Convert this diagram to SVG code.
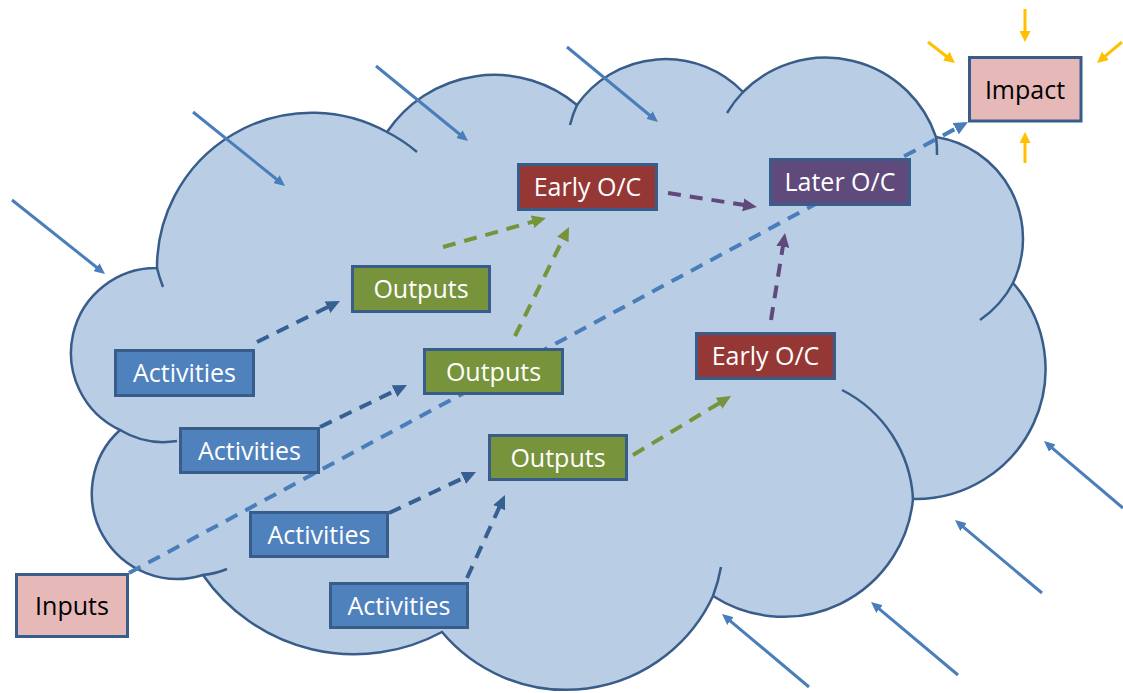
<svg xmlns="http://www.w3.org/2000/svg" width="1123" height="693" viewBox="0 0 1123 693">
<defs>
<style>
.box{stroke:#385d8a;stroke-width:3}
.act{fill:#4f81bd}
.out{fill:#77933c}
.eoc{fill:#953735}
.loc{fill:#604a7b}
.pink{fill:#e6b9b8}
.lbl{font-family:"Open Sans","Noto Sans","Liberation Sans",sans-serif;font-size:25px;text-anchor:middle;fill:#ffffff}
.dark{fill:#000000}
.dash{fill:none;stroke-width:4;stroke-dasharray:13 9}
.ext{fill:none;stroke:#4a7ebb;stroke-width:3}
.sun{fill:none;stroke:#ffc000;stroke-width:3}
</style>
<marker id="mDB" markerUnits="userSpaceOnUse" markerWidth="14" markerHeight="13" refX="10" refY="6.5" orient="auto"><path d="M0,0 L14,6.5 L0,13 z" fill="#366092"/></marker>
<marker id="mG" markerUnits="userSpaceOnUse" markerWidth="14" markerHeight="13" refX="10" refY="6.5" orient="auto"><path d="M0,0 L14,6.5 L0,13 z" fill="#77933c"/></marker>
<marker id="mP" markerUnits="userSpaceOnUse" markerWidth="14" markerHeight="13" refX="10" refY="6.5" orient="auto"><path d="M0,0 L14,6.5 L0,13 z" fill="#604a7b"/></marker>
<marker id="mLB" markerUnits="userSpaceOnUse" markerWidth="14" markerHeight="13" refX="10" refY="6.5" orient="auto"><path d="M0,0 L14,6.5 L0,13 z" fill="#4a7ebb"/></marker>
<marker id="mExt" markerUnits="userSpaceOnUse" markerWidth="11" markerHeight="10" refX="7" refY="5" orient="auto"><path d="M0,0 L11,5 L0,10 z" fill="#4a7ebb"/></marker>
<marker id="mSun" markerUnits="userSpaceOnUse" markerWidth="11" markerHeight="11" refX="7" refY="5.5" orient="auto"><path d="M0,0 L11,5.5 L0,11 z" fill="#ffc000"/></marker>
</defs>

<g id="cloud">
<path d="M120,430 A85,85 0 0 1 157,268 A155,155 0 0 1 387,132 A129,129 0 0 1 577,105 A108,108 0 0 1 743,92 A116.5,116.5 0 0 1 936,137 A103,103 0 0 1 1013,283 A130,130 0 0 1 913,499 A130,130 0 0 1 713,596 A162,162 0 0 1 442,632 A184,184 0 0 1 203,575 A85.5,85.5 0 0 1 120,430 Z" fill="#b9cde5" stroke="#385d8a" stroke-width="2.5"/>
<g fill="none" stroke="#385d8a" stroke-width="2.5">
<path d="M120,430 A85,85 0 0 0 177,441"/>
<path d="M157,268 A155,155 0 0 0 163,287"/>
<path d="M387,132 A155,155 0 0 1 417,152"/>
<path d="M577,105 A108,108 0 0 0 570,125"/>
<path d="M743,92 A116.5,116.5 0 0 0 727,113"/>
<path d="M936,137 A116.5,116.5 0 0 1 937,155"/>
<path d="M1013,283 A103,103 0 0 1 980,320"/>
<path d="M913,499 A130,130 0 0 0 842,390"/>
<path d="M713,596 A162,162 0 0 0 721,567"/>
<path d="M203,575 A85.5,85.5 0 0 0 227,569"/>
</g>
</g>

<g id="influences">
<line class="ext" x1="12" y1="200" x2="101.9" y2="271.5" marker-end="url(#mExt)"/>
<line class="ext" x1="193" y1="112" x2="281.9" y2="183.5" marker-end="url(#mExt)"/>
<line class="ext" x1="376" y1="66" x2="464.9" y2="138.5" marker-end="url(#mExt)"/>
<line class="ext" x1="567" y1="47" x2="654.9" y2="119.5" marker-end="url(#mExt)"/>
<line class="ext" x1="1123" y1="508" x2="1047" y2="443.6" marker-end="url(#mExt)"/>
<line class="ext" x1="1042" y1="593" x2="958.1" y2="522.6" marker-end="url(#mExt)"/>
<line class="ext" x1="958" y1="675" x2="874.1" y2="604.6" marker-end="url(#mExt)"/>
<line class="ext" x1="809" y1="687" x2="725.1" y2="616.6" marker-end="url(#mExt)"/>
<line class="sun" x1="1025" y1="9" x2="1025" y2="38" marker-end="url(#mSun)"/>
<line class="sun" x1="928" y1="42" x2="951.8" y2="60.5" marker-end="url(#mSun)"/>
<line class="sun" x1="1122" y1="42" x2="1100.1" y2="60.4" marker-end="url(#mSun)"/>
<line class="sun" x1="1025" y1="163" x2="1025" y2="136" marker-end="url(#mSun)"/>
</g>

<g id="connectors">
<line class="dash" stroke="#4a7ebb" stroke-width="4.5" stroke-dasharray="17 11" x1="129" y1="573" x2="964.5" y2="123.9" marker-end="url(#mLB)"/>
<line class="dash" stroke="#366092" x1="257" y1="342" x2="336.4" y2="302.8" marker-end="url(#mDB)"/>
<line class="dash" stroke="#366092" x1="320" y1="427" x2="403.4" y2="386.7" marker-end="url(#mDB)"/>
<line class="dash" stroke="#366092" x1="389" y1="513" x2="472.4" y2="473.7" marker-end="url(#mDB)"/>
<line class="dash" stroke="#366092" x1="467" y1="578" x2="503.3" y2="498.6" marker-end="url(#mDB)"/>
<line class="dash" stroke="#77933c" x1="443" y1="247" x2="542.1" y2="219.1" marker-end="url(#mG)"/>
<line class="dash" stroke="#77933c" x1="515" y1="336" x2="567.2" y2="230.6" marker-end="url(#mG)"/>
<line class="dash" stroke="#77933c" x1="633" y1="455" x2="727.6" y2="398.1" marker-end="url(#mG)"/>
<line class="dash" stroke="#604a7b" x1="668" y1="193" x2="753" y2="206.4" marker-end="url(#mP)"/>
<line class="dash" stroke="#604a7b" x1="771" y1="320" x2="784.4" y2="237" marker-end="url(#mP)"/>
</g>

<g id="impact"><rect class="box pink" x="969.5" y="57.5" width="111.5" height="63.5"/><text class="lbl dark" x="1025" y="99">Impact</text></g>
<g id="inputs"><rect class="box pink" x="16.5" y="574.5" width="111" height="62"/><text class="lbl dark" x="72" y="615">Inputs</text></g>
<g id="early-oc-1"><rect class="box eoc" x="518.5" y="164.5" width="138" height="45"/><text class="lbl" x="587.5" y="196">Early O/C</text></g>
<g id="later-oc"><rect class="box loc" x="770.5" y="159.5" width="139" height="45"/><text class="lbl" x="840" y="191">Later O/C</text></g>
<g id="early-oc-2"><rect class="box eoc" x="696.5" y="333.5" width="138" height="45"/><text class="lbl" x="765.5" y="365">Early O/C</text></g>
<g id="outputs-1"><rect class="box out" x="352.5" y="266.5" width="137" height="45"/><text class="lbl" x="421" y="298">Outputs</text></g>
<g id="outputs-2"><rect class="box out" x="424.5" y="349.5" width="138" height="44"/><text class="lbl" x="493.5" y="381">Outputs</text></g>
<g id="outputs-3"><rect class="box out" x="489.5" y="435.5" width="137" height="44"/><text class="lbl" x="558" y="467">Outputs</text></g>
<g id="activities-1"><rect class="box act" x="115.5" y="350.5" width="138" height="45"/><text class="lbl" x="184.5" y="382">Activities</text></g>
<g id="activities-2"><rect class="box act" x="180.5" y="428.5" width="138" height="44"/><text class="lbl" x="249.5" y="460">Activities</text></g>
<g id="activities-3"><rect class="box act" x="250.5" y="512.5" width="137" height="44"/><text class="lbl" x="319" y="544">Activities</text></g>
<g id="activities-4"><rect class="box act" x="330.5" y="583.5" width="137" height="44"/><text class="lbl" x="399" y="615">Activities</text></g>
</svg>
